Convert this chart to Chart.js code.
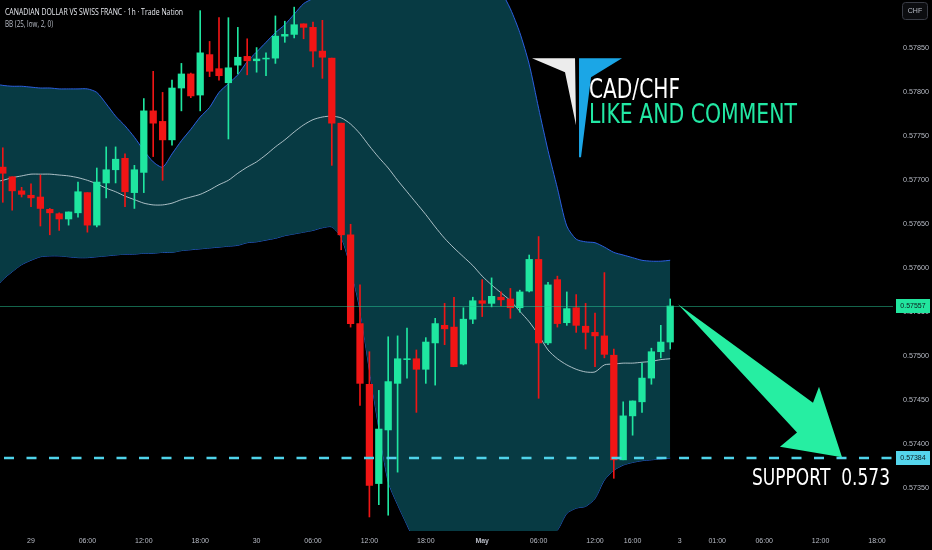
<!DOCTYPE html>
<html><head><meta charset="utf-8">
<script src="https://cdn.jsdelivr.net/npm/chart.js@4.4.1/dist/chart.umd.min.js"></script>
<style>html,body{margin:0;padding:0;background:#000;overflow:hidden}canvas{display:block}</style>
</head><body>
<canvas id="c" width="932" height="550"></canvas>
<script>
// hourly candles, hour index 0 = 29 Apr 00:00
const hours = [-3,-2,-1,0,1,2,3,4,5,6,7,8,9,10,11,12,13,14,15,16,17,18,19,20,21,22,23,24,25,26,27,28,29,30,31,32,33,34,35,36,37,38,39,40,41,42,43,44,45,46,47,48,49,50,51,52,53,54,55,56,57,58,59,60,61,62,63,64,65,66,67,68];
const opens = [0.57715,0.57704,0.57688,0.57683,0.57681,0.57667,0.57662,0.57656,0.57663,0.57686,0.57649,0.57697,0.57712,0.57725,0.57686,0.57709,0.57779,0.57767,0.57746,0.57805,0.57821,0.57797,0.57843,0.57827,0.57811,0.57831,0.57841,0.57836,0.57838,0.57839,0.57864,0.57866,0.57878,0.57874,0.57847,0.57839,0.57765,0.57638,0.57537,0.57468,0.57355,0.57416,0.57469,0.57496,0.57497,0.57485,0.57515,0.57535,0.57533,0.57491,0.57542,0.57563,0.57560,0.57567,0.57565,0.57555,0.57574,0.57610,0.57515,0.57587,0.57538,0.57555,0.57534,0.57527,0.57523,0.57501,0.57382,0.57432,0.57448,0.57475,0.57505,0.57516];
const highs = [0.57737,0.57704,0.57692,0.57696,0.57706,0.57668,0.57663,0.57664,0.57698,0.57686,0.57714,0.57738,0.57738,0.57730,0.57717,0.57793,0.57824,0.57800,0.57814,0.57833,0.57822,0.57893,0.57858,0.57885,0.57885,0.57874,0.57861,0.57851,0.57845,0.57887,0.57881,0.57897,0.57878,0.57880,0.57882,0.57839,0.57765,0.57650,0.57581,0.57505,0.57461,0.57522,0.57523,0.57532,0.57507,0.57521,0.57543,0.57560,0.57567,0.57555,0.57567,0.57587,0.57589,0.57573,0.57577,0.57575,0.57615,0.57636,0.57584,0.57591,0.57573,0.57570,0.57560,0.57549,0.57595,0.57508,0.57448,0.57449,0.57492,0.57509,0.57535,0.57565];
const lows = [0.57675,0.57666,0.57681,0.57670,0.57648,0.57638,0.57643,0.57649,0.57658,0.57641,0.57647,0.57680,0.57697,0.57670,0.57668,0.57686,0.57727,0.57700,0.57740,0.57779,0.57794,0.57779,0.57818,0.57814,0.57747,0.57821,0.57820,0.57823,0.57819,0.57833,0.57857,0.57862,0.57861,0.57829,0.57816,0.57717,0.57621,0.57533,0.57444,0.57317,0.57331,0.57319,0.57368,0.57475,0.57436,0.57469,0.57467,0.57513,0.57488,0.57490,0.57537,0.57545,0.57556,0.57557,0.57543,0.57550,0.57573,0.57452,0.57513,0.57533,0.57535,0.57527,0.57508,0.57488,0.57498,0.57361,0.57382,0.57410,0.57436,0.57468,0.57498,0.57508];
const closes = [0.57708,0.57688,0.57684,0.57680,0.57668,0.57663,0.57656,0.57664,0.57687,0.57649,0.57698,0.57712,0.57724,0.57687,0.57712,0.57779,0.57765,0.57746,0.57805,0.57821,0.57796,0.57845,0.57824,0.57819,0.57828,0.57840,0.57836,0.57838,0.57839,0.57864,0.57866,0.57877,0.57874,0.57847,0.57840,0.57765,0.57638,0.57537,0.57469,0.57353,0.57417,0.57471,0.57497,0.57497,0.57485,0.57516,0.57537,0.57531,0.57488,0.57542,0.57563,0.57560,0.57568,0.57564,0.57555,0.57573,0.57610,0.57515,0.57581,0.57537,0.57554,0.57535,0.57527,0.57523,0.57502,0.57382,0.57432,0.57449,0.57475,0.57505,0.57516,0.57557];

// Bollinger Bands BB(25, low, 2, 0)
const bandHours = [-4,-3,-2,-1,0,1,2,3,4,5,6,7,8,9,10,11,12,13,14,15,16,17,18,19,20,21,22,23,24,25,26,27,28,29,30,31,32,33,34,35,36,37,38,39,40,41,42,43,44,45,46,47,48,49,50,51,52,53,54,55,56,57,58,59,60,61,62,63,64,65,66,67,68];
const bbUpper = [0.57810,0.57808,0.57807,0.57807,0.57806,0.57805,0.57805,0.57804,0.57804,0.57804,0.57804,0.57800,0.57787,0.57773,0.57762,0.57749,0.57734,0.57721,0.57715,0.57730,0.57745,0.57758,0.57772,0.57783,0.57800,0.57810,0.57820,0.57835,0.57846,0.57857,0.57868,0.57877,0.57889,0.57901,0.57907,0.57915,0.57923,0.57930,0.57937,0.57943,0.57947,0.57951,0.57953,0.57954,0.57954,0.57953,0.57951,0.57949,0.57946,0.57944,0.57942,0.57939,0.57936,0.57928,0.57915,0.57895,0.57868,0.57832,0.57782,0.57734,0.57691,0.57648,0.57633,0.57630,0.57629,0.57624,0.57618,0.57615,0.57612,0.57609,0.57608,0.57608,0.57609];
const bbMiddle = [0.57698,0.57700,0.57703,0.57705,0.57707,0.57707,0.57707,0.57706,0.57705,0.57703,0.57700,0.57696,0.57691,0.57687,0.57682,0.57678,0.57674,0.57672,0.57672,0.57674,0.57678,0.57681,0.57684,0.57689,0.57695,0.57700,0.57708,0.57715,0.57721,0.57729,0.57738,0.57746,0.57755,0.57763,0.57769,0.57772,0.57773,0.57771,0.57764,0.57753,0.57739,0.57726,0.57714,0.57700,0.57687,0.57674,0.57661,0.57647,0.57634,0.57623,0.57613,0.57603,0.57591,0.57581,0.57572,0.57563,0.57551,0.57539,0.57524,0.57507,0.57497,0.57490,0.57485,0.57482,0.57482,0.57490,0.57491,0.57492,0.57492,0.57493,0.57494,0.57496,0.57497];
const bbLower = [0.57575,0.57587,0.57596,0.57604,0.57609,0.57613,0.57614,0.57614,0.57613,0.57612,0.57612,0.57613,0.57614,0.57615,0.57616,0.57616,0.57617,0.57617,0.57618,0.57618,0.57620,0.57621,0.57622,0.57623,0.57624,0.57625,0.57626,0.57629,0.57630,0.57632,0.57634,0.57637,0.57639,0.57641,0.57643,0.57646,0.57647,0.57635,0.57600,0.57552,0.57484,0.57418,0.57357,0.57331,0.57308,0.57285,0.57266,0.57251,0.57241,0.57234,0.57230,0.57229,0.57232,0.57236,0.57243,0.57252,0.57262,0.57274,0.57284,0.57294,0.57302,0.57321,0.57327,0.57329,0.57338,0.57359,0.57370,0.57376,0.57379,0.57381,0.57382,0.57383,0.57384];

const tickHours = [0,6,12,18,24,30,36,42,48,54,60,64,69,73,78,84,90];
const tickLabels = ['29','06:00','12:00','18:00','30','06:00','12:00','18:00','May','06:00','12:00','16:00','3','01:00','06:00','12:00','18:00'];
const priceTicks = [0.5735,0.5740,0.5745,0.5750,0.5755,0.5760,0.5765,0.5770,0.5775,0.5780,0.5785];
const lastPrice = 0.57557;
const supportPrice = 0.57384;

// annotation anchors in data units [hour, price]
const arrowPts = [[68.83,0.57559],[83.19,0.57447],[83.83,0.57465],[86.28,0.57385],[79.68,0.57397],[81.49,0.57413]];
const logoAnchor = [53.3, 0.57839];
const pairTextAt = [59.36, 0.57794];
const likeTextAt = [59.36, 0.57765];
const supportTextAt = [76.7, 0.57353];

const GREEN = '#1fe6a0', RED = '#f01515';
const candleColor = hours.map((h,i) => closes[i] >= opens[i] ? GREEN : RED);

function fitText(ctx, txt, x, y, size, width, color, family, weight) {
  ctx.save();
  ctx.font = (weight||'normal') + ' ' + size + 'px ' + family;
  ctx.textBaseline = 'alphabetic'; ctx.textAlign = 'left';
  const w = ctx.measureText(txt).width;
  ctx.translate(x, y);
  ctx.scale(width / w, 1);
  ctx.fillStyle = color;
  ctx.fillText(txt, 0, 0);
  ctx.restore();
}

const overlay = {
  id: 'overlay',
  afterDatasetsDraw(chart) {
    const {ctx, chartArea: a, scales: {x, y}} = chart;
    ctx.save();
    ctx.beginPath(); ctx.rect(a.left, a.top, a.right - a.left, a.bottom - a.top); ctx.clip();
    const yl = Math.round(y.getPixelForValue(lastPrice)) + 0.5;
    ctx.strokeStyle = 'rgba(40,200,150,0.5)'; ctx.lineWidth = 1;
    ctx.beginPath(); ctx.moveTo(a.left, yl); ctx.lineTo(a.right, yl); ctx.stroke();
    const ys = y.getPixelForValue(supportPrice);
    ctx.strokeStyle = '#4fd3ea'; ctx.lineWidth = 2.5; ctx.setLineDash([10, 12.5]); ctx.lineDashOffset = -4;
    ctx.beginPath(); ctx.moveTo(a.left, ys); ctx.lineTo(a.right, ys); ctx.stroke();
    ctx.setLineDash([]);
    ctx.fillStyle = '#26eea2';
    ctx.beginPath();
    arrowPts.forEach((p, i) => {
      const px = x.getPixelForValue(p[0]), py = y.getPixelForValue(p[1]);
      if (i === 0) ctx.moveTo(px, py); else ctx.lineTo(px, py);
    });
    ctx.closePath(); ctx.fill();
    const lx = x.getPixelForValue(logoAnchor[0]), ly = y.getPixelForValue(logoAnchor[1]);
    ctx.fillStyle = '#ececec';
    ctx.beginPath(); ctx.moveTo(lx, ly); ctx.lineTo(lx + 43, ly); ctx.lineTo(lx + 44, ly + 67); ctx.lineTo(lx + 33, ly + 14); ctx.closePath(); ctx.fill();
    ctx.fillStyle = '#1ba6e6';
    ctx.beginPath(); ctx.moveTo(lx + 47, ly); ctx.lineTo(lx + 90, ly); ctx.lineTo(lx + 59, ly + 19); ctx.lineTo(lx + 49, ly + 99); ctx.lineTo(lx + 47, ly + 99); ctx.closePath(); ctx.fill();
    fitText(ctx, 'CAD/CHF', x.getPixelForValue(pairTextAt[0]), y.getPixelForValue(pairTextAt[1]), 27, 91, '#ffffff', "'DejaVu Sans'");
    fitText(ctx, 'LIKE AND COMMENT', x.getPixelForValue(likeTextAt[0]), y.getPixelForValue(likeTextAt[1]), 27, 208, '#22e8a4', "'DejaVu Sans'");
    fitText(ctx, 'SUPPORT  0.573', x.getPixelForValue(supportTextAt[0]), y.getPixelForValue(supportTextAt[1]), 23, 138, '#ffffff', "'DejaVu Sans'");
    ctx.restore();
  },
  afterDraw(chart) {
    const {ctx, chartArea: a, scales: {y}} = chart;
    ctx.save();
    const box = (price, bg) => {
      const py = y.getPixelForValue(price);
      ctx.fillStyle = bg;
      ctx.fillRect(a.right + 3, Math.round(py) - 7, 34, 14);
      ctx.fillStyle = '#0d1a1c';
      ctx.font = '7px "Liberation Sans"';
      ctx.textAlign = 'center'; ctx.textBaseline = 'middle';
      ctx.fillText(price.toFixed(5), a.right + 20, Math.round(py) + 0.5);
    };
    box(lastPrice, '#22e59e');
    box(supportPrice, '#55d5ec');
    ctx.strokeStyle = '#3a3d46'; ctx.lineWidth = 1; ctx.fillStyle = '#0c0d10';
    ctx.beginPath(); ctx.roundRect(902.5, 2.5, 25, 17, 3); ctx.fill(); ctx.stroke();
    ctx.fillStyle = '#b8bcc6'; ctx.font = '7px "Liberation Sans"'; ctx.textAlign = 'center'; ctx.textBaseline = 'middle';
    ctx.fillText('CHF', 915, 11.5);
    fitText(ctx, 'CANADIAN DOLLAR VS SWISS FRANC · 1h · Trade Nation', 5, 15.3, 8.5, 178, '#e6e8ee', "'Open Sans'");
    fitText(ctx, 'BB (25, low, 2, 0)', 5, 26.5, 8.5, 48, '#b8bcc6', "'Open Sans'");
    ctx.restore();
  }
};

const chart = new Chart(document.getElementById('c'), {
  type: 'bar',
  data: {
    datasets: [
      { type: 'line', label: 'upper', data: bandHours.map((h, i) => ({x: h, y: bbUpper[i]})), borderColor: '#2b5fe0', borderWidth: 1, pointRadius: 0, tension: 0.25, fill: 2, backgroundColor: '#073a43', order: 5 },
      { type: 'line', label: 'basis', data: bandHours.map((h, i) => ({x: h, y: bbMiddle[i]})), borderColor: 'rgba(200,214,220,0.85)', borderWidth: 1, pointRadius: 0, tension: 0.25, fill: false, order: 4 },
      { type: 'line', label: 'lower', data: bandHours.map((h, i) => ({x: h, y: bbLower[i]})), borderColor: '#2b5fe0', borderWidth: 1, pointRadius: 0, tension: 0.25, fill: false, order: 5 },
      { type: 'bar', label: 'wick', data: hours.map((h, i) => ({x: h, y: [lows[i], highs[i]]})), backgroundColor: candleColor, barThickness: 1, grouped: false, borderWidth: 0, borderSkipped: false, order: 1 },
      { type: 'bar', label: 'body', data: hours.map((h, i) => ({x: h, y: [opens[i], closes[i]]})), backgroundColor: candleColor, barThickness: 6.6, grouped: false, borderWidth: 0, borderSkipped: false, order: 0 }
    ]
  },
  options: {
    responsive: false, animation: false, devicePixelRatio: 1,
    layout: { padding: 0 },
    plugins: { legend: { display: false }, tooltip: { enabled: false }, title: { display: false } },
    scales: {
      x: {
        type: 'linear', min: -3.2979, max: 91.7021, offset: false,
        grid: { display: false, drawTicks: false }, border: { display: false },
        afterBuildTicks: s => { s.ticks = tickHours.map(v => ({value: v})); },
        afterFit: s => { s.height = 19; s.paddingLeft = 0; s.paddingRight = 0; },
        ticks: {
          autoSkip: false, maxRotation: 0, padding: 6, color: '#b8bcc6',
          font: c => ({ family: 'Liberation Sans', size: 7, weight: (c.tick && c.tick.label === 'May') ? 'bold' : 'normal' }),
          callback: v => tickLabels[tickHours.indexOf(v)]
        }
      },
      y: {
        type: 'linear', position: 'right', min: 0.5730103, max: 0.5790513,
        grid: { display: false, drawTicks: false }, border: { display: false },
        afterBuildTicks: s => { s.ticks = priceTicks.map(v => ({value: v})); },
        afterFit: s => { s.width = 39; s.paddingTop = 0; s.paddingBottom = 0; },
        ticks: { padding: 10, color: '#b8bcc6', font: { family: 'Liberation Sans', size: 7.2 }, callback: v => v.toFixed(5) }
      }
    }
  },
  plugins: [overlay]
});
</script>
</body></html>
